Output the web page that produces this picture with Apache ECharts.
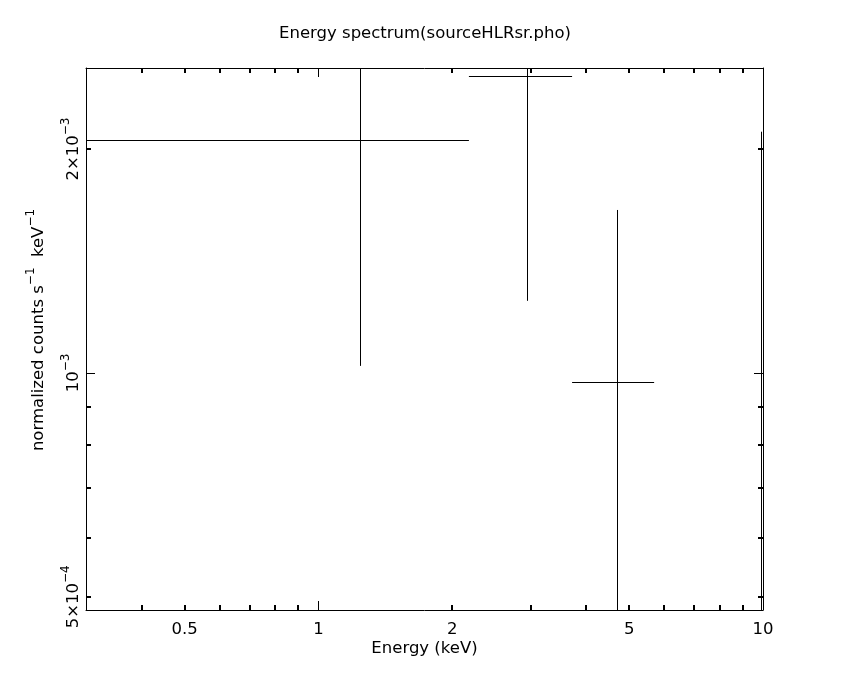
<!DOCTYPE html>
<html><head><meta charset="utf-8">
<script src="https://cdn.jsdelivr.net/npm/echarts@6/dist/echarts.min.js"></script>
<style>html,body{margin:0;padding:0;background:#fff}#c{width:850px;height:680px}</style>
</head><body><div id="c"></div>
<script>
const titleText = 'Energy spectrum(sourceHLRsr.pho)';
const xName = 'Energy (keV)';
const yName = 'normalized counts s{sup|−1}  keV{sup|−1}';
const xMin = 0.3, xMax = 10;
const yMin = 4.8e-4, yMax = 2.57e-3;

// spectrum bins
const energy   = [1.243, 2.95, 4.70, 9.90];
const energyLo = [0.30, 2.18, 3.72, 5.69];
const energyHi = [2.18, 3.72, 5.69, 14.1];
const rate     = [2.056e-3, 2.506e-3, 9.72e-4, 3.5e-4];
const rateErr  = [1.034e-3, 1.256e-3, 6.84e-4, 1.76e-3];

// ticks and labels
const xMajorTicks = [1, 10];
const xMinorTicks = [0.4, 0.5, 0.6, 0.7, 0.8, 0.9, 2, 3, 4, 5, 6, 7, 8, 9];
const xLabelValues = [0.5, 1, 2, 5, 10];
const xLabelTexts  = ['0.5', '1', '2', '5', '10'];
const yMajorTicks = [1e-3];
const yMinorTicks = [5e-4, 6e-4, 7e-4, 8e-4, 9e-4, 2e-3];
const yLabelValues = [2e-3, 1e-3, 5e-4];
const yLabelTexts  = ['2×10{sup|−3}', '10{sup|−3}', '5×10{sup|−4}'];

const FONT = 'DejaVu Sans';
const FS = 16.5;
const richSup = {
  base: {fontFamily: FONT, fontSize: FS, lineHeight: 28, verticalAlign: 'middle', color: '#000'},
  sup: {fontFamily: FONT, fontSize: 12, lineHeight: 14, verticalAlign: 'top', color: '#000'}
};
function wrapBase(s) {
  return s.split(/(\{sup\|[^}]*\})/).filter(p => p.length).map(p => p.startsWith('{sup|') ? p : '{base|' + p + '}').join('');
}
const px = v => Math.round(v) + 0.5;

const errData = energy.map((e, i) => {
  let lo = rate[i] - rateErr[i];
  if (lo <= 0) lo = yMin * 0.5;
  return [e, rate[i], energyLo[i], energyHi[i], lo, rate[i] + rateErr[i]];
});
const xTickData = xMajorTicks.map(v => [v, yMin, 1]).concat(xMinorTicks.map(v => [v, yMin, 0]));
const yTickData = yMajorTicks.map(v => [xMin, v, 1]).concat(yMinorTicks.map(v => [xMin, v, 0]));
const xLabelData = xLabelValues.map(v => [v, yMin]);
const yLabelData = yLabelValues.map(v => [xMin, v]);

const chart = echarts.init(document.getElementById('c'), null, {renderer: 'canvas'});
const hiddenAxisBits = {axisTick: {show: false}, axisLabel: {show: false}, splitLine: {show: false}};
const axisLine = {show: true, onZero: false, lineStyle: {color: '#000', width: 1}};

chart.setOption({
  backgroundColor: '#fff',
  animation: false,
  title: {text: titleText, left: 'center', top: 20,
    textStyle: {fontFamily: FONT, fontSize: FS, fontWeight: 'normal', color: '#000'}},
  grid: {left: 86, right: 87, top: 68, bottom: 70, containLabel: false},
  xAxis: [
    Object.assign({type: 'log', logBase: 10, min: xMin, max: xMax, position: 'bottom', axisLine,
      name: xName, nameLocation: 'middle', nameGap: 30,
      nameTextStyle: {fontFamily: FONT, fontSize: FS, color: '#000'}}, hiddenAxisBits),
    Object.assign({type: 'log', logBase: 10, min: xMin, max: xMax, position: 'top', axisLine}, hiddenAxisBits)
  ],
  yAxis: [
    Object.assign({type: 'log', logBase: 10, min: yMin, max: yMax, position: 'left', axisLine,
      name: wrapBase(yName), nameLocation: 'middle', nameRotate: 90, nameGap: 33,
      nameTextStyle: {rich: richSup, padding: [0, 0, 0, 18]}}, hiddenAxisBits),
    Object.assign({type: 'log', logBase: 10, min: yMin, max: yMax, position: 'right', axisLine}, hiddenAxisBits)
  ],
  series: [
    {
      type: 'custom', name: 'spectrum', clip: true, silent: true,
      encode: {x: 0, y: 1},
      data: errData,
      renderItem: function (params, api) {
        const c = api.coord([api.value(0), api.value(1)]);
        const l = api.coord([api.value(2), api.value(1)]);
        const r = api.coord([api.value(3), api.value(1)]);
        const b = api.coord([api.value(0), api.value(4)]);
        const t = api.coord([api.value(0), api.value(5)]);
        const st = {stroke: '#000', lineWidth: 1};
        return {type: 'group', children: [
          {type: 'line', shape: {x1: l[0], y1: px(c[1]), x2: r[0], y2: px(c[1])}, style: st},
          {type: 'line', shape: {x1: px(c[0]), y1: b[1], x2: px(c[0]), y2: t[1]}, style: st}
        ]};
      }
    },
    {
      type: 'custom', name: 'xticks', clip: false, silent: true,
      encode: {x: 0, y: 1}, data: xTickData,
      renderItem: function (params, api) {
        const cs = params.coordSys;
        const major = api.value(2) === 1;
        const len = major ? 9 : 5;
        const x = api.coord([api.value(0), yMin])[0];
        const xx = major ? px(x) : Math.round(x);
        const st = {stroke: '#000', lineWidth: major ? 1 : 2};
        const yb = cs.y + cs.height, yt = cs.y;
        return {type: 'group', children: [
          {type: 'line', shape: {x1: xx, y1: yb, x2: xx, y2: yb - len}, style: st},
          {type: 'line', shape: {x1: xx, y1: yt, x2: xx, y2: yt + len}, style: st}
        ]};
      }
    },
    {
      type: 'custom', name: 'yticks', clip: false, silent: true,
      encode: {x: 0, y: 1}, data: yTickData,
      renderItem: function (params, api) {
        const cs = params.coordSys;
        const major = api.value(2) === 1;
        const len = major ? 9 : 5;
        const y = api.coord([xMin, api.value(1)])[1];
        const yy = major ? px(y) : Math.round(y);
        const st = {stroke: '#000', lineWidth: major ? 1 : 2};
        const xl = cs.x, xr = cs.x + cs.width;
        return {type: 'group', children: [
          {type: 'line', shape: {x1: xl, y1: yy, x2: xl + len, y2: yy}, style: st},
          {type: 'line', shape: {x1: xr, y1: yy, x2: xr - len, y2: yy}, style: st}
        ]};
      }
    },
    {
      type: 'custom', name: 'xlabels', clip: false, silent: true,
      encode: {x: 0, y: 1}, data: xLabelData,
      renderItem: function (params, api) {
        const cs = params.coordSys;
        const x = api.coord([api.value(0), yMin])[0];
        return {type: 'text', x: x, y: cs.y + cs.height + 20,
          style: {text: xLabelTexts[params.dataIndex], fontFamily: FONT, fontSize: FS, fill: '#000',
            align: 'center', verticalAlign: 'middle'}};
      }
    },
    {
      type: 'custom', name: 'ylabels', clip: false, silent: true,
      encode: {x: 0, y: 1}, data: yLabelData,
      renderItem: function (params, api) {
        const cs = params.coordSys;
        const y = api.coord([xMin, api.value(1)])[1];
        return {type: 'text', x: cs.x - 12, y: y, rotation: Math.PI / 2,
          style: {text: wrapBase(yLabelTexts[params.dataIndex]), rich: richSup,
            align: 'center', verticalAlign: 'middle'}};
      }
    }
  ]
});
</script></body></html>
